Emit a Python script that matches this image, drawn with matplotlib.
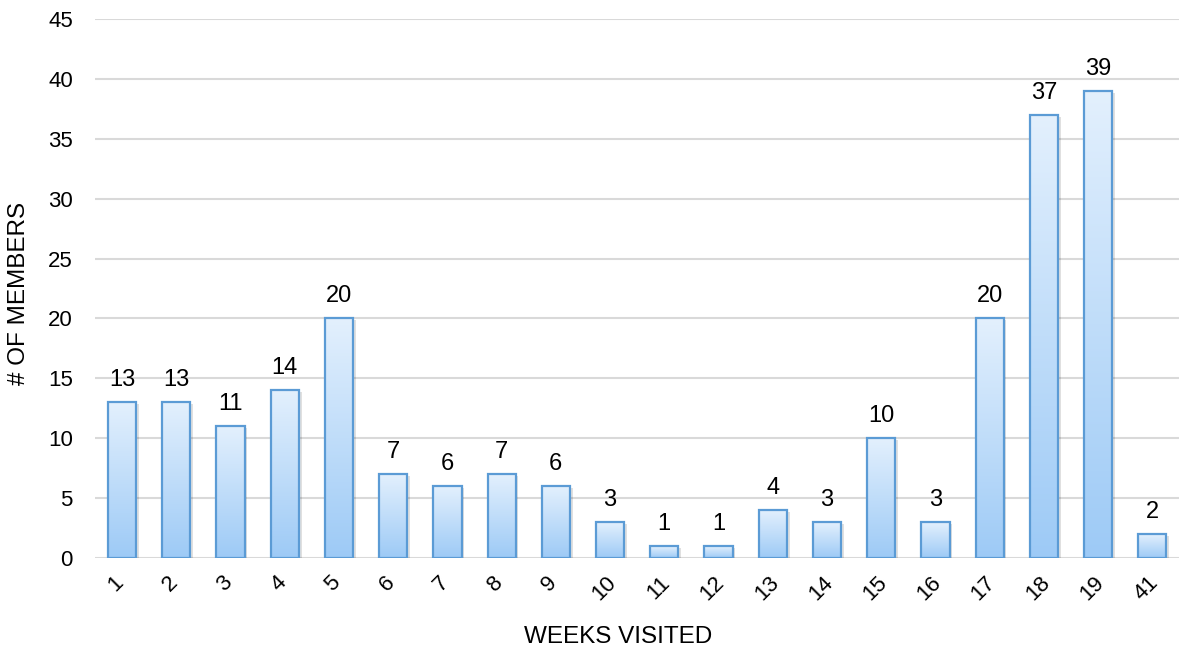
import numpy as np
import matplotlib.pyplot as plt
import matplotlib.transforms as mtrans
from matplotlib.colors import LinearSegmentedColormap
from matplotlib.patches import Rectangle

plt.rcParams['font.family'] = ['Liberation Sans', 'DejaVu Sans']

weeks = ['1', '2', '3', '4', '5', '6', '7', '8', '9', '10',
         '11', '12', '13', '14', '15', '16', '17', '18', '19', '41']
members = [13, 13, 11, 14, 20, 7, 6, 7, 6, 3,
           1, 1, 4, 3, 10, 3, 20, 37, 39, 2]

fill_cmap = LinearSegmentedColormap.from_list('barfill', ['#9dcaf6', '#e3f0fd'])
edge_clr = '#5b9bd5'
grid_clr = '#d9d9d9'

fig = plt.figure(figsize=(11.8, 6.49), dpi=100)
ax = fig.add_axes([0.0805, 0.1402, 0.919, 0.8305])

x = np.arange(len(weeks))
width = 0.52
grad = np.linspace(0, 1, 256).reshape(-1, 1)

for xi, h in zip(x, members):
    x0 = xi - width / 2
    # soft shadow behind the bar
    ax.add_patch(Rectangle((x0 + 0.05, -0.15), width, h, facecolor='#000000',
                           alpha=0.12, edgecolor='none', zorder=2))
    ax.imshow(grad, extent=[x0, x0 + width, 0, h], origin='lower',
              cmap=fill_cmap, aspect='auto', zorder=3, interpolation='bilinear')
    ax.add_patch(Rectangle((x0, 0), width, h, facecolor='none',
                           edgecolor=edge_clr, linewidth=1.6, zorder=4))
    ax.text(xi, h + 1.35, str(h), ha='center', va='baseline', fontsize=17,
            color='#000000', zorder=5)

ax.set_xlim(-0.5, len(weeks) - 0.5)
ax.set_ylim(0, 45)
ax.set_yticks(np.arange(0, 46, 5))
ax.set_xticks(x)
ax.set_xticklabels(weeks, rotation=45, ha='center')
ax.tick_params(axis='both', length=0, labelsize=16, colors='#000000')
ax.tick_params(axis='x', pad=10)
ax.tick_params(axis='y', pad=16)

# nudge the slanted week labels a little to the left
shift = mtrans.ScaledTranslation(-0.06, 0, fig.dpi_scale_trans)
for lbl in ax.get_xticklabels():
    lbl.set_transform(lbl.get_transform() + shift)

ax.grid(axis='y', color=grid_clr, linewidth=1.5, zorder=0)
ax.set_axisbelow(True)
for sp in ax.spines.values():
    sp.set_visible(False)

ax.set_xlabel('WEEKS VISITED', fontsize=17.5)
ax.set_ylabel('# OF MEMBERS', fontsize=17.5)
ax.xaxis.set_label_coords(0.4825, -0.126)
ax.yaxis.set_label_coords(-0.060, 0.49)

fig.savefig('out.png', dpi=100)
